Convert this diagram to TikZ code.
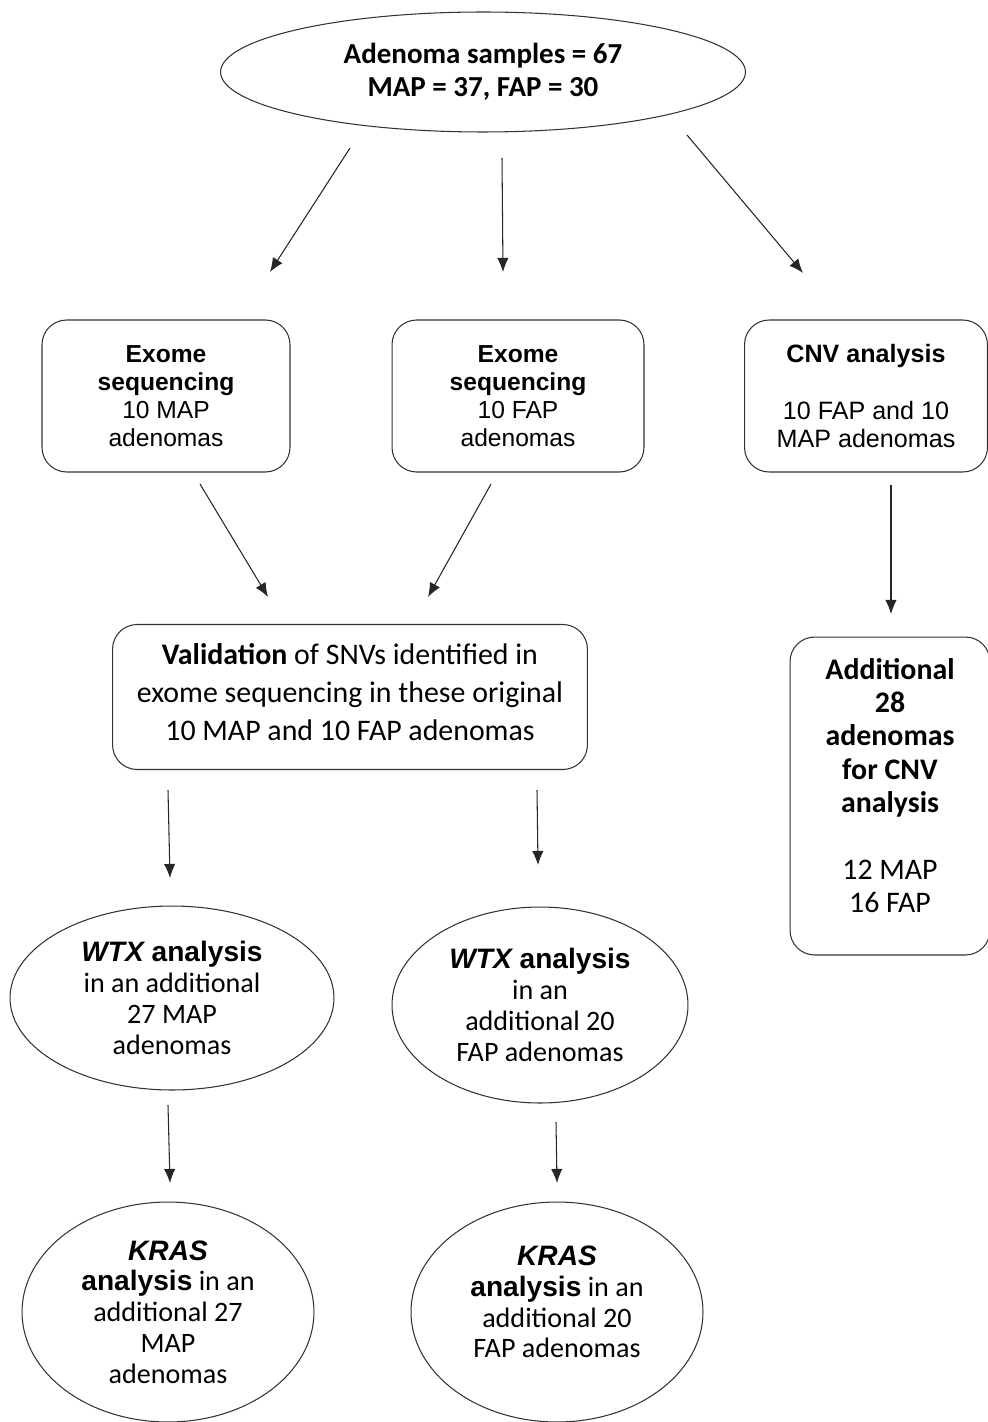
\documentclass[tikz,border=0pt]{standalone}
\usepackage{fontspec}
\setmainfont{Carlito}
\newfontfamily\arialfont{Liberation Sans}
\usetikzlibrary{shapes.geometric,arrows.meta}

\begin{document}
\begin{tikzpicture}[x=0.02cm,y=-0.02cm,
  box/.style={draw=black!80,line width=.6pt,rounded corners=14pt,align=center,inner sep=0pt},
  oval/.style={draw=black!80,line width=.6pt,ellipse,align=center,inner sep=0pt},
  arr/.style={line width=.6pt,draw=black!85,-{Latex[length=8pt,width=6.5pt]}}]
\useasboundingbox (0,0) rectangle (987,1422);
% samples
\node[oval,minimum width=10.5cm,minimum height=2.4cm,font=\fontsize{16.5}{19}\selectfont\bfseries] (samples) at (483,72)
  {Adenoma samples = 67\\MAP = 37, FAP = 30};
% first row
\node[box,minimum width=4.96cm,minimum height=3.04cm,font=\arialfont\fontsize{14}{16}\selectfont] (exmap) at (166,396)
  {\textbf{Exome}\\\textbf{sequencing}\\10 MAP\\adenomas};
\node[box,minimum width=5.04cm,minimum height=3.04cm,font=\arialfont\fontsize{14}{16}\selectfont] (exfap) at (518,396)
  {\textbf{Exome}\\\textbf{sequencing}\\10 FAP\\adenomas};
\node[box,minimum width=4.86cm,minimum height=3.04cm,font=\arialfont\fontsize{14.3}{16}\selectfont] (cnv) at (866,396)
  {\textbf{CNV analysis}\\[16pt]10 FAP and 10\\MAP adenomas};
% validation and more CNV
\node[box,minimum width=9.5cm,minimum height=2.9cm,font=\fontsize{17}{21.5}\selectfont] (valid) at (350,697)
  {\textbf{Validation} of SNVs identified in\\exome sequencing in these original\\10 MAP and 10 FAP adenomas\\[-16pt]\mbox{}};
\node[box,minimum width=4.0cm,minimum height=6.36cm,font=\fontsize{17}{19}\selectfont] (addcnv) at (890,796)
  {\textbf{Additional}\\\textbf{28}\\\textbf{adenomas}\\\textbf{for CNV}\\\textbf{analysis}\\[19pt]12 MAP\\16 FAP\\[-7pt]\mbox{}};
% WTX
\node[oval,minimum width=6.48cm,minimum height=3.68cm,font=\fontsize{16}{17.5}\selectfont] (wtxmap) at (172,998)
  {{\arialfont\bfseries\itshape WTX}{\arialfont\bfseries{} analysis}\\in an additional\\27 MAP\\adenomas};
\node[oval,minimum width=5.92cm,minimum height=3.92cm,font=\fontsize{16}{17.5}\selectfont] (wtxfap) at (540,1005)
  {{\arialfont\bfseries\itshape WTX}{\arialfont\bfseries{} analysis}\\in an\\additional 20\\FAP adenomas};
% KRAS
\node[oval,minimum width=5.84cm,minimum height=4.4cm,font=\fontsize{16}{17.5}\selectfont] (krasmap) at (168,1312)
  {{\arialfont\bfseries\itshape KRAS}\\{\arialfont\bfseries analysis} in an\\additional 27\\MAP\\adenomas};
\node[oval,minimum width=5.84cm,minimum height=4.4cm,font=\fontsize{16}{17.5}\selectfont] (krasfap) at (557,1312)
  {{\arialfont\bfseries\itshape KRAS}\\{\arialfont\bfseries analysis} in an\\additional 20\\FAP adenomas\\[-6pt]\mbox{}};
% arrow ends
\coordinate (s1) at (350,148); \coordinate (e1) at (270,272);
\coordinate (s2) at (502,158); \coordinate (e2) at (503,272);
\coordinate (s3) at (687,135); \coordinate (e3) at (803,273);
\coordinate (s4) at (200,484); \coordinate (e4) at (268,597);
\coordinate (s5) at (491,484); \coordinate (e5) at (428,597);
\coordinate (s6) at (891,485); \coordinate (e6) at (891,614);
\coordinate (s7) at (168,790); \coordinate (e7) at (170,878);
\coordinate (s8) at (537,790); \coordinate (e8) at (538,865);
\coordinate (s9) at (168,1105); \coordinate (e9) at (170,1183);
\coordinate (s10) at (556,1122); \coordinate (e10) at (557,1183);
\foreach \i in {1,...,10}
  \draw[arr] (s\i) -- (e\i);
\end{tikzpicture}
\end{document}
